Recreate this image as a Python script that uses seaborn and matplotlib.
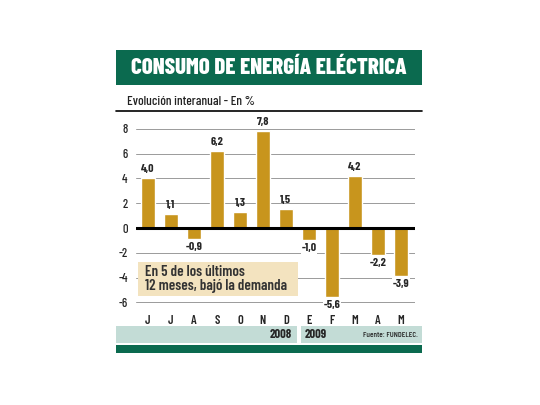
import pandas as pd
import seaborn as sns
import matplotlib.pyplot as plt
from matplotlib.patches import Rectangle

# Chart data
months = ['J', 'J', 'A', 'S', 'O', 'N', 'D', 'E', 'F', 'M', 'A', 'M']
values = [4.0, 1.1, -0.9, 6.2, 1.3, 7.8, 1.5, -1.0, -5.6, 4.2, -2.2, -3.9]
yticks = [-6, -4, -2, 0, 2, 4, 6, 8]
years = ['2008', '2009']

title = 'CONSUMO DE ENERGÍA ELÉCTRICA'
subtitle = 'Evolución interanual - En %'
note = 'En 5 de los últimos\n12 meses, bajó la demanda'
source = 'Fuente: FUNDELEC.'

GREEN = '#0b6a4f'
GOLD = '#c8951d'
BAND = '#c3dcd6'
BEIGE = '#f3e3bf'

sns.set_style('white')
# condensed face if present, condensed DejaVu otherwise
plt.rcParams['font.family'] = ['Barlow Condensed', 'DejaVu Sans']
plt.rcParams['font.stretch'] = 'condensed'

W, H = 540, 405
fig = plt.figure(figsize=(5.4, 4.05), dpi=100)


def px(x0, y0, x1, y1):
    # pixel box (top-left origin) -> figure fraction
    return [x0 / W, 1 - y1 / H, (x1 - x0) / W, (y1 - y0) / H]


def frect(x0, y0, x1, y1, color, z=0):
    b = px(x0, y0, x1, y1)
    fig.add_artist(Rectangle((b[0], b[1]), b[2], b[3], transform=fig.transFigure,
                             facecolor=color, edgecolor='none', zorder=z))


frect(116, 50, 422, 85, GREEN)
fig.text(269 / W, 1 - 67.5 / H, title, color='white', fontsize=16.5, fontweight=800,
         ha='center', va='center')
fig.text(127 / W, 1 - 102 / H, subtitle, color='#222222', fontsize=9.5, fontweight=500,
         ha='left', va='center')
fig.add_artist(plt.Line2D([116 / W, 422 / W], [1 - 111 / H, 1 - 111 / H],
                          transform=fig.transFigure, color='black', lw=1.2))

frect(116, 326, 297, 343, BAND)
frect(301, 326, 422, 343, BAND)
frect(116, 345, 422, 353, GREEN)
fig.text(292 / W, 1 - 335 / H, years[0], fontsize=9, fontweight='bold', ha='right', va='center')
fig.text(305 / W, 1 - 335 / H, years[1], fontsize=9, fontweight='bold', ha='left', va='center')
fig.text(418 / W, 1 - 335 / H, source, fontsize=6, fontweight=500, ha='right', va='center')

# main axes
ax = fig.add_axes(px(136, 122, 415, 309))
df = pd.DataFrame({'pos': [str(i) for i in range(len(values))], 'value': values})
sns.barplot(data=df, x='pos', y='value', color=GOLD, saturation=1, width=0.61, ax=ax, zorder=3)
ax.set_xlim(-0.52, 11.61)
ax.set_ylim(-6.53, 8.55)
ax.set_yticks(yticks)
ax.set_yticklabels([str(t) for t in yticks], fontsize=9, fontweight=500)
ax.set_xticks(range(len(months)))
ax.set_xticklabels(months, fontsize=9, fontweight=600)
ax.tick_params(axis='y', length=0, pad=6)
ax.tick_params(axis='x', length=0, pad=4)
ax.set_xlabel('')
ax.set_ylabel('')
for s in ax.spines.values():
    s.set_visible(False)
for t in yticks:
    if t != 0:
        ax.axhline(t, color='#9a9a9a', lw=0.7, zorder=1)
ax.axhline(0, color='black', lw=2.2, zorder=4)
ax.patch.set_alpha(0)

for i, v in enumerate(values):
    lab = f'{v:.1f}'.replace('.', ',')
    if v >= 0:
        ax.annotate(lab, (i, v), xytext=(0, 3), textcoords='offset points',
                    ha='center', va='bottom', fontsize=8.5, fontweight='bold', zorder=5)
    else:
        ax.annotate(lab, (i, v), xytext=(0, -2), textcoords='offset points',
                    ha='center', va='top', fontsize=8.5, fontweight='bold', zorder=5,
                    bbox=dict(facecolor='white', edgecolor='none', pad=0.5))

# note box above the grid
frect(138, 262, 298, 296, BEIGE, z=5)
fig.text(145 / W, 1 - 279 / H, note, fontsize=10.8, fontweight=600, color='#333333',
         ha='left', va='center', linespacing=1.0, zorder=6)

fig.savefig('out.png', dpi=100)
